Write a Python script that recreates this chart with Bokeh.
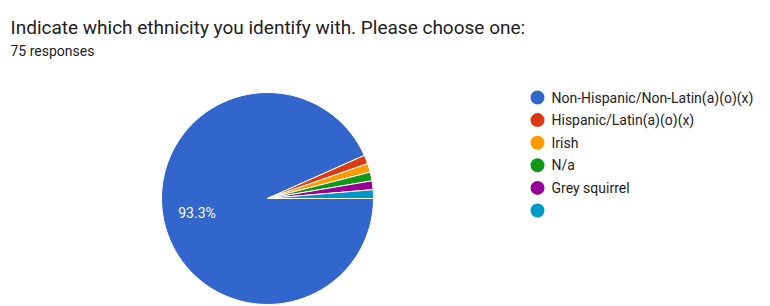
import math
from bokeh.plotting import figure
from bokeh.models import Range1d, ColumnDataSource
from bokeh.core.properties import value
from bokeh.embed import file_html
from bokeh.resources import INLINE

title_text = "Indicate which ethnicity you identify with. Please choose one:"
subtitle_text = "75 responses"
categories = ["Non-Hispanic/Non-Latin(a)(o)(x)", "Hispanic/Latin(a)(o)(x)", "Irish", "N/a", "Grey squirrel", ""]
counts = [70, 1, 1, 1, 1, 1]
colors = ["#3366cc", "#dc3912", "#ff9900", "#109618", "#990099", "#0099c6"]

W, H = 770, 306
p = figure(width=W, height=H, output_backend="svg", toolbar_location=None,
           x_range=Range1d(0, W), y_range=Range1d(-H, 0),
           min_border=0, outline_line_color=None)
p.axis.visible = False
p.grid.visible = False
p.background_fill_color = "white"
p.border_fill_color = "white"

FONT = value("Roboto")

# title
p.text(x=[10], y=[-27], text=[title_text], text_font=FONT, text_font_size="19px",
       text_color="#212121", text_baseline="alphabetic", text_align="left")
p.text(x=[10], y=[-50], text=[subtitle_text], text_font=FONT, text_font_size="14px",
       text_color="#212121", text_baseline="alphabetic", text_align="left")

# pie
cx, cy, R = 267, -198, 106
total = sum(counts)
starts, ends, mids = [], [], []
cum = 0.0
for c in counts:
    a0 = cum / total * 2 * math.pi
    cum += c
    a1 = cum / total * 2 * math.pi
    # clockwise from 3 o'clock
    starts.append(-a1)
    ends.append(-a0)
    mids.append(-(a0 + a1) / 2)

src = ColumnDataSource(dict(start=starts, end=ends, color=colors))
p.wedge(x=cx, y=cy, radius=R, start_angle="start", end_angle="end",
        fill_color="color", line_color="white", line_width=1, source=src)

# percentage label on main slice
pct = counts[0] / total * 100
lr = 0.68 * R
p.text(x=[cx + lr * math.cos(mids[0])], y=[cy + lr * math.sin(mids[0])],
       text=[f"{pct:.1f}%"], text_font=FONT, text_font_size="14px",
       text_color="white", text_align="center", text_baseline="middle")

# legend
lx, ly0, dy = 537, -97, -22.6
leg = ColumnDataSource(dict(
    x=[lx] * len(categories),
    y=[ly0 + i * dy for i in range(len(categories))],
    tx=[lx + 14] * len(categories),
    label=categories, color=colors))
p.scatter(x="x", y="y", size=14, marker="circle", fill_color="color",
          line_color=None, source=leg)
p.text(x="tx", y="y", text="label", text_font=FONT, text_font_size="14px",
       text_color="#222222", text_baseline="middle", text_align="left", source=leg)

open("out.html", "w").write(file_html(p, INLINE))
